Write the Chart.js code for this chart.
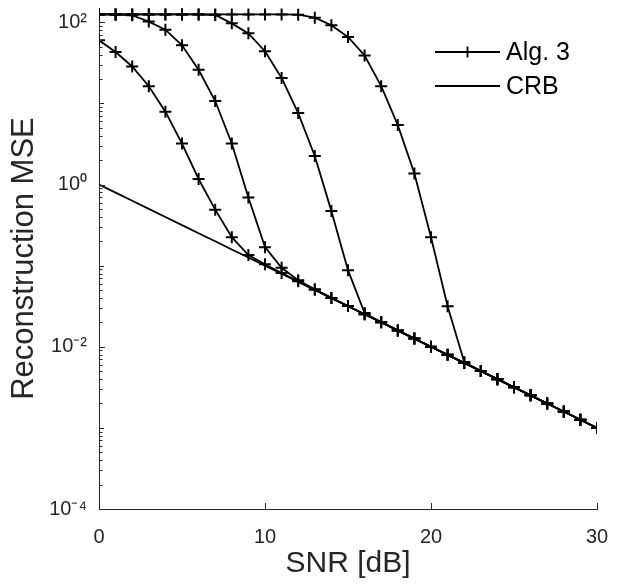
<!DOCTYPE html>
<html>
<head>
<meta charset="utf-8">
<script src="https://cdn.jsdelivr.net/npm/chart.js@4.4.1/dist/chart.umd.min.js"></script>
<style>
  html, body { margin: 0; padding: 0; background: #fff; }
  #wrap { width: 620px; height: 585px; position: relative; }
</style>
</head>
<body>
<div id="wrap"><canvas id="c" width="620" height="585"></canvas></div>
<script>
// ---- data ----
const snr = [0,1,2,3,4,5,6,7,8,9,10,11,12,13,14,15,16,17,18,19,20,21,22,23,24,25,26,27,28,29,30];
const crb = [1, 0.794, 0.631, 0.501, 0.398, 0.316, 0.251, 0.200, 0.158, 0.126, 0.100,
             0.0794, 0.0631, 0.0501, 0.0398, 0.0316, 0.0251, 0.0200, 0.0158, 0.0126, 0.0100,
             0.00794, 0.00631, 0.00501, 0.00398, 0.00316, 0.00251, 0.00200, 0.00158, 0.00126, 0.00100];
const alg3a = [60, 43, 28.5, 16.3, 7.9, 3.2, 1.17, 0.49, 0.224, 0.135, 0.104,
               0.081, 0.064, 0.0505, 0.0400, 0.0318, 0.0252, 0.0201, 0.0159, 0.0126, 0.0100,
               0.00795, 0.00632, 0.00502, 0.00399, 0.00317, 0.00252, 0.00200, 0.00159, 0.00126, 0.00100];
const alg3b = [125, 125, 122, 102, 81, 52, 26, 10.7, 3.2, 0.69, 0.169,
               0.094, 0.066, 0.051, 0.0400, 0.0317, 0.0252, 0.0201, 0.0159, 0.0126, 0.0100,
               0.00795, 0.00632, 0.00502, 0.00399, 0.00317, 0.00252, 0.00200, 0.00159, 0.00126, 0.00100];
const alg3c = [125, 125, 125, 125, 125, 125, 125, 123, 97, 73, 44,
               20.6, 7.6, 2.25, 0.47, 0.088, 0.026, 0.0201, 0.0159, 0.0126, 0.0100,
               0.00795, 0.00632, 0.00502, 0.00399, 0.00317, 0.00252, 0.00200, 0.00159, 0.00126, 0.00100];
const alg3d = [125, 125, 125, 125, 125, 125, 125, 125, 125, 125, 125,
               125, 124, 114, 92, 66, 39, 16.3, 5.4, 1.37, 0.224,
               0.0316, 0.0065, 0.00502, 0.00399, 0.00317, 0.00252, 0.00200, 0.00159, 0.00126, 0.00100];
const xTicks = [0, 10, 20, 30];
const yTicks = [1e-4, 1e-2, 1, 1e2];
const yTickLabels = ['10\u207B\u2074', '10\u207B\u00B2', '10\u2070', '10\u00B2'];
const legendLabels = ['Alg. 3', 'CRB'];
const xTitle = 'SNR [dB]';
const yTitle = 'Reconstruction MSE';

// ---- styles ----
const FONT = "'Liberation Sans', Arial, Helvetica, sans-serif";
const AXIS = '#262626';

function algSet(data, label) {
  return {
    label: label, data: data,
    borderColor: '#000', backgroundColor: '#000',
    borderWidth: 1.8, pointStyle: 'cross', pointRadius: 6,
    pointBorderWidth: 2, pointBorderColor: '#000', pointHoverRadius: 6,
    tension: 0, fill: false
  };
}

const inwardTicks = {
  id: 'inwardTicks',
  afterDraw(chart) {
    const ctx = chart.ctx, a = chart.chartArea;
    const xs = chart.scales.x, ys = chart.scales.y;
    ctx.save();
    ctx.strokeStyle = AXIS; ctx.lineWidth = 1;
    ctx.beginPath();
    xTicks.forEach(v => {
      const px = Math.round(xs.getPixelForValue(v)) + 0.5;
      ctx.moveTo(px, a.bottom); ctx.lineTo(px, a.bottom - 6);
    });
    for (let e = -4; e <= 2; e++) {
      for (let m = 1; m <= 9; m++) {
        const v = m * Math.pow(10, e);
        if (v < ys.min || v > ys.max) continue;
        const major = (m === 1 && yTicks.includes(v));
        const len = major ? 6 : (m === 1 ? 5 : 3.5);
        const py = Math.round(ys.getPixelForValue(v)) + 0.5;
        ctx.moveTo(a.left, py); ctx.lineTo(a.left + len, py);
      }
    }
    ctx.stroke();
    ctx.restore();
  }
};

const customLegend = {
  id: 'customLegend',
  afterDraw(chart) {
    const ctx = chart.ctx, a = chart.chartArea;
    const x0 = a.right - 162, x1 = a.right - 97;
    const rows = [a.top + 44, a.top + 78];
    ctx.save();
    ctx.strokeStyle = '#000'; ctx.lineWidth = 1.8;
    rows.forEach((y, i) => {
      ctx.beginPath(); ctx.moveTo(x0, y); ctx.lineTo(x1, y); ctx.stroke();
      if (i === 0) {
        const cx = (x0 + x1) / 2;
        ctx.beginPath();
        ctx.moveTo(cx, y - 5.5); ctx.lineTo(cx, y + 5.5);
        ctx.stroke();
      }
      ctx.fillStyle = '#000';
      ctx.font = '25px ' + FONT;
      ctx.textBaseline = 'middle';
      ctx.textAlign = 'left';
      ctx.fillText(legendLabels[i], x1 + 6, y + 1);
    });
    ctx.restore();
  }
};

new Chart(document.getElementById('c'), {
  type: 'line',
  data: {
    labels: snr,
    datasets: [
      algSet(alg3a, legendLabels[0]),
      algSet(alg3b, legendLabels[0]),
      algSet(alg3c, legendLabels[0]),
      algSet(alg3d, legendLabels[0]),
      { label: legendLabels[1], data: crb, borderColor: '#000', borderWidth: 1.8,
        pointRadius: 0, pointHoverRadius: 0, tension: 0, fill: false }
    ]
  },
  options: {
    responsive: false, animation: false,
    devicePixelRatio: 1,
    layout: { padding: { left: 0, right: 23, top: 5, bottom: 0 } },
    plugins: { legend: { display: false }, tooltip: { enabled: false } },
    scales: {
      x: {
        type: 'linear', min: 0, max: 30,
        afterBuildTicks: s => { s.ticks = xTicks.map(v => ({ value: v })); },
        afterFit: s => { s.height = 76; s.paddingLeft = 0; s.paddingRight = 0; },
        grid: { display: false },
        border: { display: true, color: AXIS, width: 1 },
        ticks: { color: AXIS, font: { family: FONT, size: 20 }, padding: 8, maxRotation: 0 },
        title: { display: true, text: xTitle, color: AXIS,
                 font: { family: FONT, size: 30, lineHeight: 1 }, padding: { top: 0, bottom: 6 } }
      },
      y: {
        type: 'logarithmic', min: 1e-4, max: 150,
        afterBuildTicks: s => { s.ticks = yTicks.map(v => ({ value: v })); },
        afterFit: s => { s.width = 99; s.paddingTop = 0; s.paddingBottom = 0; },
        grid: { display: false },
        border: { display: true, color: AXIS, width: 1 },
        ticks: { color: AXIS, font: { family: FONT, size: 20 }, padding: 4,
                 callback: (v) => { const i = yTicks.indexOf(v); return i >= 0 ? yTickLabels[i] : ''; } },
        title: { display: true, text: yTitle, color: AXIS,
                 font: { family: FONT, size: 31, lineHeight: 1 }, padding: { top: 9, bottom: 0 } }
      }
    }
  },
  plugins: [inwardTicks, customLegend]
});
</script>
</body>
</html>
